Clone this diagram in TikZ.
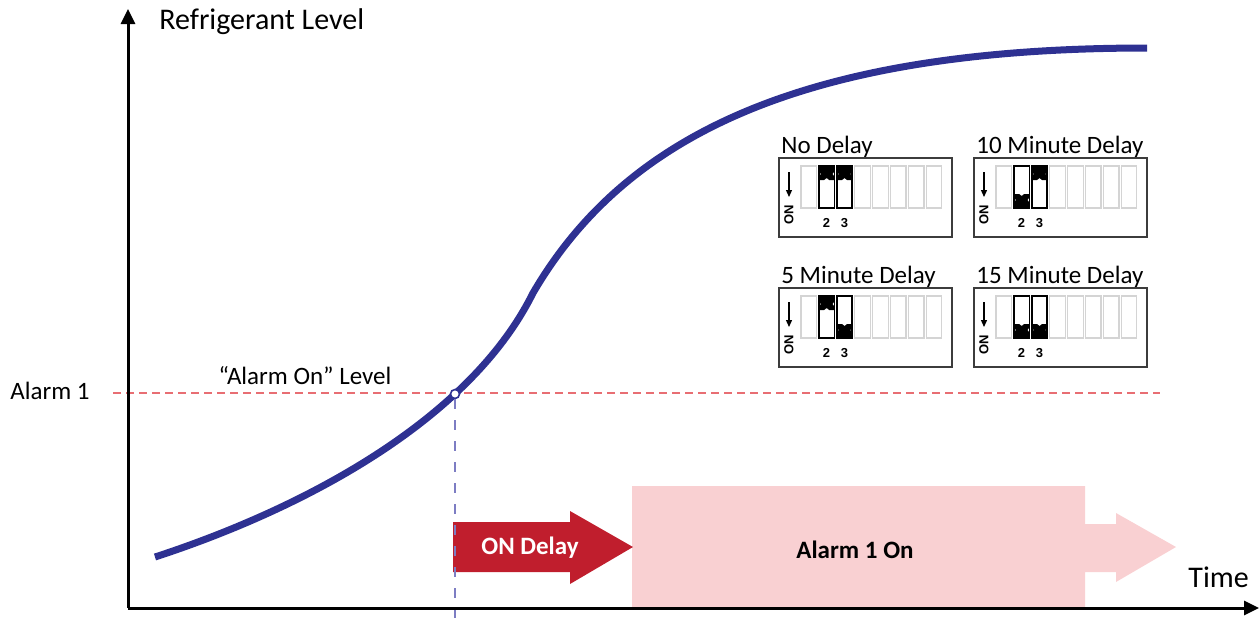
\documentclass[tikz,border=0pt]{standalone}
\usepackage{fontspec}
\setmainfont{Carlito}
\newfontfamily\digitfont{Liberation Sans}
\usetikzlibrary{arrows.meta}

\newlength{\du}
\setlength{\du}{0.5pt}

\definecolor{curveblue}{RGB}{46,49,146}
\definecolor{delayred}{RGB}{192,30,45}
\definecolor{alarmpink}{RGB}{249,208,210}
\definecolor{levelred}{RGB}{232,110,115}
\definecolor{timeblue}{RGB}{125,125,195}
\definecolor{slotgrey}{RGB}{212,212,212}
\definecolor{boxgrey}{RGB}{60,60,60}

\tikzset{
  axisline/.style={line width=3\du, -{Triangle[length=7.5pt,width=7pt]}},
  levelcurve/.style={line width=7\du, draw=curveblue},
  levelline/.style={line width=1.3\du, draw=levelred, dash pattern=on 8\du off 5\du},
  delayline/.style={line width=2\du, draw=timeblue, dash pattern=on 10\du off 11\du},
  plaintext/.style={inner sep=0pt, font=\fontsize{12.5}{15}\selectfont},
  axistext/.style={inner sep=0pt, font=\fontsize{15}{18}\selectfont},
  boldtext/.style={inner sep=0pt, font=\fontsize{12.5}{15}\selectfont\bfseries},
  dipbox/.style={draw=boxgrey, line width=1.5\du, fill=white},
  dipslot/.style={draw=slotgrey, line width=1.2\du},
  dipused/.style={draw=black, line width=1.8\du},
  dipnum/.style={inner sep=0pt, font=\digitfont\bfseries\fontsize{6.5}{7}\selectfont},
}

% dip switch block: name, left, top, title, switch 2, switch 3 (0 up, 1 down)
\newcommand{\dipblock}[6]{%
\begin{scope}[shift={(#2\du,#3\du)}]
\node[plaintext, anchor=base west] (#1) at (2\du,-5\du) {#4};
\draw[dipbox] (0,0) rectangle (173\du,79\du);
\foreach \i in {0,...,7}
  \draw[dipslot] ({(22+17.9*\i)*\du},8\du) rectangle ({(37.5+17.9*\i)*\du},50\du);
\foreach \i/\s in {1/#5,2/#6}{
  \draw[dipused] ({(22+17.9*\i)*\du},8\du) rectangle ({(37.5+17.9*\i)*\du},50\du);
  \fill[shift={({(22+17.9*\i)*\du},{(8.5+41*\s)*\du})}, yscale={1-2*\s}]
    (0,0) -- (15.5\du,0) -- (15.5\du,5\du) -- (13.5\du,7.5\du) -- (15.5\du,10\du)
    -- (15.5\du,13.5\du) -- (10.25\du,13.5\du) -- (7.75\du,11.5\du) -- (5.25\du,13.5\du)
    -- (0,13.5\du) -- (0,10\du) -- (2\du,7.5\du) -- (0,5\du) -- cycle;
}
\node[dipnum] (#1two) at (47.6\du,65\du) {2};
\node[dipnum] (#1three) at (65.5\du,65\du) {3};
\draw[line width=1.2\du, -{Triangle[length=3.5pt,width=3pt]}] (10\du,14\du) -- (10\du,39\du);
\node[dipnum, rotate=90] (#1on) at (10\du,57\du) {ON};
\end{scope}}

\begin{document}
\begin{tikzpicture}
\pgftransformyscale{-1.000000}
\useasboundingbox (0,0) rectangle (1259\du,618\du);

% axes
\coordinate (origin) at (128\du,608\du);
\coordinate (ytop) at (128\du,9\du);
\coordinate (xend) at (1259\du,608\du);

% alarm bar and delay arrow
\fill[alarmpink] (632\du,486\du) -- (1085\du,486\du) -- (1085\du,524\du) -- (1116\du,524\du)
  -- (1116\du,513\du) -- (1176\du,547\du) -- (1116\du,582\du) -- (1116\du,572\du)
  -- (1085\du,572\du) -- (1085\du,608\du) -- (632\du,608\du) -- cycle;
\node[boldtext] (alarmon) at (855\du,550\du) {Alarm 1 On};
\fill[delayred] (453\du,522\du) -- (570\du,522\du) -- (570\du,511\du) -- (633\du,547\du)
  -- (570\du,584\du) -- (570\du,572\du) -- (453\du,572\du) -- cycle;
\node[boldtext, text=white] (ondelay) at (530\du,548\du) {ON Delay};

% alarm level
\coordinate (levelleft) at (113\du,393\du);
\coordinate (levelright) at (1160\du,393\du);
\draw[levelline] (levelleft) -- (levelright);
\node[plaintext, anchor=base west] (alarm) at (10\du,399\du) {Alarm 1};
\node[plaintext, anchor=base] (alarmlevel) at (305\du,384\du) {“Alarm On” Level};

% refrigerant curve
\coordinate (curvestart) at (155\du,557\du);
\coordinate (curvebend) at (533\du,293\du);
\coordinate (curveend) at (1147\du,48\du);
\draw[levelcurve] (curvestart) .. controls (305\du,508\du) and (470\du,420\du) .. (curvebend)
  .. controls (623\du,139\du) and (797\du,48\du) .. (curveend);

\node[circle, draw=curveblue, fill=white, line width=1.6\du, minimum size=9\du, inner sep=0pt] (cross) at (455\du,394\du) {};
\coordinate (delaybottom) at (455\du,618\du);
\draw[delayline] (cross.south) -- (delaybottom);

\draw[axisline] (origin) -- (ytop);
\draw[axisline] (origin) -- (xend);
\node[axistext, anchor=base west] (ylabel) at (159\du,29\du) {Refrigerant Level};
\node[axistext, anchor=base west] (xlabel) at (1188\du,587\du) {Time};

% dip switch settings
\dipblock{nodelay}{779}{158}{No Delay}{0}{0}
\dipblock{tenmin}{974}{158}{10 Minute Delay}{1}{0}
\dipblock{fivemin}{779}{288}{5 Minute Delay}{0}{1}
\dipblock{fifteenmin}{974}{288}{15 Minute Delay}{1}{1}
\end{tikzpicture}
\end{document}
